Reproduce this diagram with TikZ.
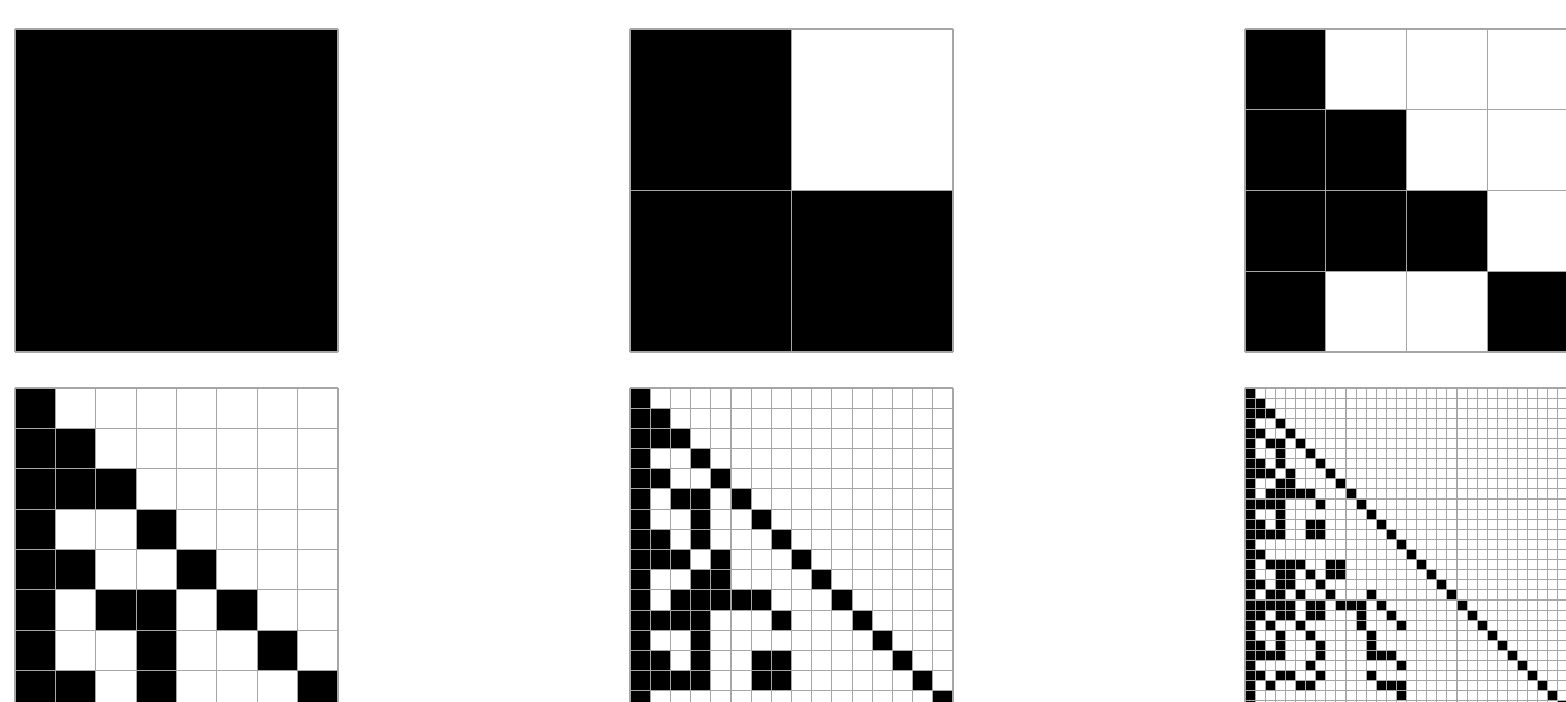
\documentclass[tikz,border=0pt]{standalone}
\usepackage{tikz}
\definecolor{gridgray}{HTML}{A6A6A6}
\tikzset{
  gridline/.style={draw=gridgray, line width=0.55pt},
  cellfill/.style={fill=black},
}
\def\matdata{0/{0},1/{0,1},2/{0,1,2},3/{0,3},4/{0,1,4},5/{0,2,3,5},6/{0,3,6},7/{0,1,3,7},
8/{0,1,2,4,8},9/{0,3,4,9},10/{0,2,3,4,5,6,10},11/{0,1,2,3,7,11},12/{0,3,12},13/{0,1,3,6,7,13},
14/{0,1,2,3,6,7,14},15/{0,15},16/{0,1,16},17/{0,2,3,4,5,8,9,17},18/{0,3,4,6,8,9,18},
19/{0,1,3,4,7,19},20/{0,2,3,5,8,12,20},21/{0,1,2,3,4,6,7,9,10,11,13,21},
22/{0,1,3,4,6,7,11,14,22},23/{0,2,5,11,15,23},24/{0,3,6,12,24},25/{0,1,3,7,12,25},
26/{0,1,2,3,7,12,13,14,26},27/{0,6,15,27},28/{0,1,3,4,7,12,28},29/{0,2,5,6,13,14,15,29},
30/{0,15,30},31/{0,31}}
\newcommand\matpanel[3]{%
  \pgfmathsetmacro\cellsz{323/#3}%
  \foreach \r/\cols in \matdata {%
    \ifnum\r<#3\relax
      \foreach \c in \cols {%
        \ifnum\c<#3\relax
          \fill[cellfill] (#1+\c*\cellsz, #2+\r*\cellsz) rectangle ++(\cellsz,\cellsz);
        \fi
      }%
    \fi
  }%
  \foreach \k in {0,...,#3} {%
    \draw[gridline] (#1+\k*\cellsz, #2) -- ++(0,323);
    \draw[gridline] (#1, #2+\k*\cellsz) -- ++(323,0);
  }%
}
\begin{document}
\begin{tikzpicture}[x=0.5pt, y=-0.5pt]
  \useasboundingbox (0,0) rectangle (1566,701);
  \clip (0,0) rectangle (1566,701);
  \fill[white] (0,0) rectangle (1566,701);
  \matpanel{15}{29}{1}
  \matpanel{630}{29}{2}
  \matpanel{1245}{29}{4}
  \matpanel{15}{388}{8}
  \matpanel{630}{388}{16}
  \matpanel{1245}{388}{32}
\end{tikzpicture}
\end{document}
